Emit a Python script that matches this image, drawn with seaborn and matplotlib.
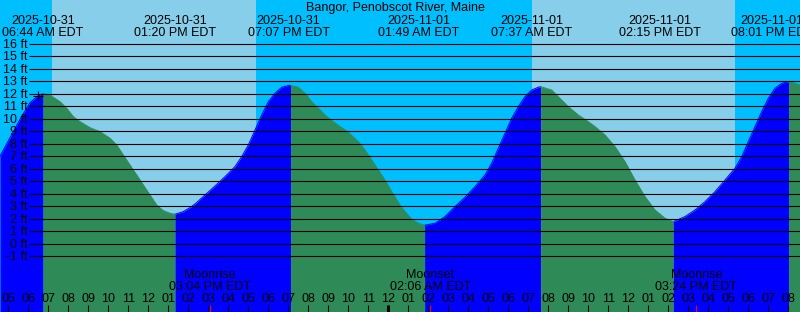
import numpy as np
import pandas as pd
import matplotlib
matplotlib.use("Agg")
import matplotlib.pyplot as plt
import seaborn as sns

# ---------------- data ----------------
title = "Bangor, Penobscot River, Maine"

# hours since 2025-10-31 00:00 EDT, tide level in feet
curve_hours = [4.585, 5.085, 5.585, 6.085, 6.435, 6.733,
               7.085, 7.25, 7.585, 7.92, 8.25, 8.585, 9.085, 9.585, 10.085, 10.42,
               10.75, 11.085, 11.42, 11.75, 12.085, 12.42, 12.75, 13.085, 13.333,
               13.75, 14.085, 14.335, 14.835, 15.335, 15.835, 16.335, 16.67, 17.0,
               17.335, 17.67, 18.0, 18.335, 18.67, 19.0, 19.117,
               19.5, 19.835, 20.17, 20.5, 20.835, 21.17, 21.67, 22.0, 22.5, 22.835,
               23.17, 23.5, 23.835, 24.17, 24.585, 24.835, 25.17, 25.5, 25.817,
               26.335, 26.835, 27.335, 27.835, 28.335, 28.835, 29.17, 29.5, 29.835,
               30.17, 30.5, 30.835, 31.17, 31.5, 31.617,
               32.17, 32.5, 33.0, 33.5, 34.0, 34.335, 34.835, 35.335, 35.835,
               36.335, 36.835, 37.335, 37.835, 38.25,
               38.835, 39.335, 39.835, 40.335, 40.835, 41.335, 41.67, 42.0, 42.335,
               42.67, 43.0, 43.335, 43.67, 44.017, 44.335, 44.585]
curve_levels = [7.0, 8.49, 9.96, 11.29, 11.77, 12.0,
                11.9, 11.72, 11.37, 10.84, 10.17, 9.77, 9.29, 8.97, 8.44, 7.9,
                7.1, 6.3, 5.5, 4.7, 3.9, 3.1, 2.65, 2.44, 2.36,
                2.57, 2.89, 3.18, 3.9, 4.62, 5.37, 6.17, 6.97, 7.9,
                9.1, 10.3, 11.37, 12.04, 12.52, 12.66, 12.68,
                12.52, 12.04, 11.37, 10.84, 10.3, 9.85, 9.29, 8.92, 8.17, 7.5,
                6.7, 5.9, 5.1, 4.17, 3.1, 2.57, 1.96, 1.64, 1.48,
                1.64, 2.17, 2.97, 3.72, 4.57, 5.5, 6.44, 7.64, 8.84,
                10.04, 10.97, 11.77, 12.3, 12.52, 12.57,
                12.3, 11.77, 10.97, 10.3, 9.77, 9.37, 8.7, 7.77, 6.57,
                5.1, 3.77, 2.7, 2.04, 1.77,
                2.17, 2.7, 3.37, 4.17, 5.1, 6.04, 6.97, 8.17, 9.37,
                10.57, 11.64, 12.44, 12.84, 12.97, 12.84, 12.7]

event_hours = [6.733, 13.333, 19.117, 25.817, 31.617, 38.25, 44.017]
event_dates = ["2025-10-31", "2025-10-31", "2025-10-31", "2025-11-01",
               "2025-11-01", "2025-11-01", "2025-11-01"]
event_clock = ["06:44 AM EDT", "01:20 PM EDT", "07:07 PM EDT", "01:49 AM EDT",
               "07:37 AM EDT", "02:15 PM EDT", "08:01 PM EDT"]

moon_hours = [15.067, 26.1, 39.4]
moon_names = ["Moonrise", "Moonset", "Moonrise"]
moon_clock = ["03:04 PM EDT", "02:06 AM EDT", "03:24 PM EDT"]

# sunrise / sunset band edges (hours)
sun_edges = [7.17, 17.385, 31.17, 41.335]

level_ticks = list(range(-1, 17))
hour_ticks = list(range(5, 45))
hour_labels = ["%02d" % (((h % 24) - 1) % 12 + 1) for h in hour_ticks]

now_hour, now_level = 6.47, 11.8

# ---------------- layout / style ----------------
X0, X1 = 4.585, 44.585          # 800 px, 20 px per hour
Y0, Y1 = -5.464, 19.504         # 312 px, 12.5 px per ft
PX = 20.0
PY = 12.5

def xh(px):
    return X0 + px / PX

def yl(py):
    return (243.8 - py) / PY

NIGHT = "#00BFFF"
DAY = "#87CEEB"
FLOOD = "#0000FF"
EBB = "#2E8B57"
INK = "#000000"

sns.set_theme(style="white")
plt.rcParams["font.family"] = ["Liberation Sans", "DejaVu Sans"]
plt.rcParams["text.color"] = INK
FS = 9

fig = plt.figure(figsize=(8.0, 3.12), dpi=100)
ax = fig.add_axes([0, 0, 1, 1])
ax.set_axis_off()

# day / night background
edges = [X0] + sun_edges + [X1]
for i in range(len(edges) - 1):
    ax.axvspan(edges[i], edges[i + 1], color=NIGHT if i % 2 == 0 else DAY,
               lw=0, zorder=0)

# tide segments
hrs = np.array(curve_hours)
lv = np.array(curve_levels)
bounds = [curve_hours[0]] + event_hours + [curve_hours[-1]]
segs = []
for i in range(len(bounds) - 1):
    a, b = bounds[i], bounds[i + 1]
    m = (hrs >= a - 1e-6) & (hrs <= b + 1e-6)
    sub = pd.DataFrame({"hours": hrs[m], "level": lv[m]})
    sub["segment"] = i
    sub["phase"] = "rising" if sub.level.iloc[-1] > sub.level.iloc[0] else "falling"
    segs.append(sub)
df = pd.concat(segs, ignore_index=True)
palette = {"rising": FLOOD, "falling": EBB}
for sub in segs:
    ax.fill_between(sub.hours, sub.level, Y0, color=palette[sub.phase.iloc[0]],
                    lw=0, zorder=1)
sns.lineplot(data=df, x="hours", y="level", hue="phase", units="segment",
             estimator=None, palette=palette, legend=False, lw=0.7, ax=ax,
             zorder=1.5)

# level lines and labels
ax.hlines(level_ticks, xh(29.3), X1, color=INK, lw=0.8, zorder=2)
for lvl in level_ticks:
    ax.text(xh(27.3), lvl - 0.32, f"{lvl} ft", ha="right", va="baseline",
            fontsize=FS, color=INK, zorder=3)

# title and event labels
ax.text(xh(395), yl(11), title, ha="center", va="baseline", fontsize=FS,
        color=INK, zorder=3)
label_px = [43, 175, 288.5, 419, 531.5, 660.3, 772]
for lp, d, c in zip(label_px, event_dates, event_clock):
    ax.text(xh(lp), yl(24), d, ha="center", va="baseline", fontsize=FS,
            color=INK, zorder=3)
    ax.text(xh(lp), yl(36), c, ha="center", va="baseline", fontsize=FS,
            color=INK, zorder=3)

# now marker
ax.plot([now_hour], [now_level], marker="+", ms=6.5, mew=0.8, color=INK,
        zorder=3)

# moon labels
for h, n, c in zip(moon_hours, moon_names, moon_clock):
    ax.text(h, yl(278.3), n, ha="center", va="baseline", fontsize=FS,
            color=INK, zorder=3)
    ax.text(h, yl(289.7), c, ha="center", va="baseline", fontsize=FS,
            color=INK, zorder=3)

# hour labels and ticks
for h, lab in zip(hour_ticks, hour_labels):
    ax.text(h, yl(301.7), lab, ha="center", va="baseline", fontsize=FS,
            color=INK, zorder=3)
    ax.vlines(h, Y0, yl(305), color=INK, lw=2.2 if h % 24 == 0 else 0.8,
              zorder=3)
ax.vlines(moon_hours, Y0, yl(305), color="#FF0000", lw=0.8, zorder=3.5)

ax.set_xlim(X0, X1)
ax.set_ylim(Y0, Y1)
fig.savefig("out.png", dpi=100)
